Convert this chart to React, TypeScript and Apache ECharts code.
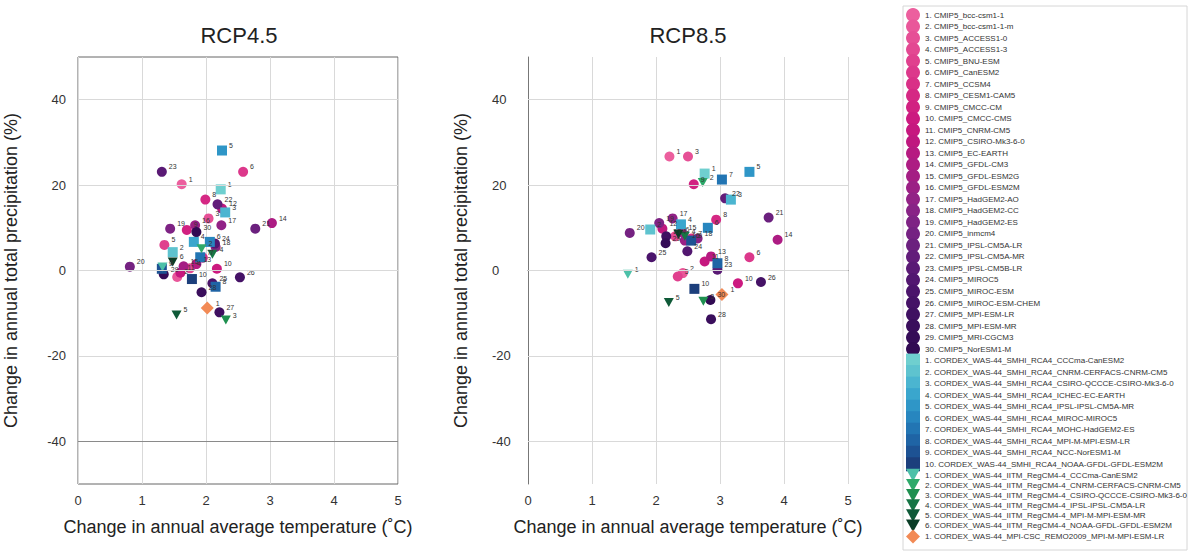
import React, { useEffect, useRef } from "react";
import * as echarts from "echarts";

// ---------- names ----------
const cmipModels = [
  "bcc-csm1-1", "bcc-csm1-1-m", "ACCESS1-0", "ACCESS1-3", "BNU-ESM", "CanESM2", "CCSM4",
  "CESM1-CAM5", "CMCC-CM", "CMCC-CMS", "CNRM-CM5", "CSIRO-Mk3-6-0", "EC-EARTH", "GFDL-CM3",
  "GFDL-ESM2G", "GFDL-ESM2M", "HadGEM2-AO", "HadGEM2-CC", "HadGEM2-ES", "inmcm4",
  "IPSL-CM5A-LR", "IPSL-CM5A-MR", "IPSL-CM5B-LR", "MIROC5", "MIROC-ESM", "MIROC-ESM-CHEM",
  "MPI-ESM-LR", "MPI-ESM-MR", "MRI-CGCM3", "NorESM1-M",
];
const smhiModels = [
  "CCCma-CanESM2", "CNRM-CERFACS-CNRM-CM5", "CSIRO-QCCCE-CSIRO-Mk3-6-0", "ICHEC-EC-EARTH",
  "IPSL-IPSL-CM5A-MR", "MIROC-MIROC5", "MOHC-HadGEM2-ES", "MPI-M-MPI-ESM-LR", "NCC-NorESM1-M",
  "NOAA-GFDL-GFDL-ESM2M",
];
const itmModels = [
  "CCCma-CanESM2", "CNRM-CERFACS-CNRM-CM5", "CSIRO-QCCCE-CSIRO-Mk3-6-0", "IPSL-IPSL-CM5A-LR",
  "MPI-M-MPI-ESM-MR", "NOAA-GFDL-GFDL-ESM2M",
];
const mpiModels = ["MPI-M-MPI-ESM-LR"];

// ---------- values: [temperature change, precipitation change] ----------
const cmip45 = [
  [1.62, 20.2], [1.55, -1.5], [2.04, 12.2], [1.75, 0.5], [1.35, 6.0], [2.58, 23.1], [1.95, 3.0],
  [1.99, 16.6], [1.7, 9.5], [2.17, 0.4], [1.6, -0.5], [2.25, 14.5], [1.85, 1.5], [3.03, 11.1],
  [1.65, 1.0], [1.83, 10.6], [2.24, 10.6], [2.15, 5.5], [1.44, 9.8], [0.81, 0.9],
  [2.77, 9.8], [2.18, 15.5], [1.31, 23.1], [2.14, 6.3], [2.1, -3.0], [2.53, -1.6],
  [2.21, -9.8], [1.93, -5.1], [1.34, -0.9], [1.85, 9.0],
];
const cmip85 = [
  [2.21, 26.7], [2.42, -0.6], [2.5, 26.7], [2.3, 8.0], [2.34, -1.4], [3.46, 3.1], [2.55, 7.5],
  [2.94, 11.9], [2.59, 20.2], [3.28, -3.0], [2.76, 2.1], [2.1, 9.8], [2.86, 3.3], [3.9, 7.2],
  [2.4, 9.0], [2.45, 7.0], [2.26, 12.2], [2.65, 7.5], [2.05, 11.1], [1.59, 8.8],
  [3.76, 12.4], [3.08, 16.9], [2.96, 0.2], [2.49, 4.5], [1.93, 3.1], [3.64, -2.7],
  [2.16, 8.0], [2.86, -11.4], [2.15, 6.4], [2.85, -6.9],
];
const smhi45 = [
  [2.23, 19.0], [1.48, 4.3], [2.3, 13.6], [1.81, 6.7], [2.25, 28.1], [2.06, 6.7], [1.91, 3.1],
  [2.15, -3.8], [1.31, 0.4], [1.78, -2.0],
];
const smhi85 = [
  [2.76, 22.7], [1.91, 9.6], [3.17, 16.6], [2.39, 10.8], [3.46, 23.1], [2.81, 10.0], [3.03, 21.3],
  [2.96, 1.7], [2.55, 7.0], [2.6, -4.3],
];
const itm45 = [[1.32, 0.8], [1.93, 5.1], [2.31, -11.6], [2.1, 3.8], [1.54, -10.4], [1.48, 2.0]];
const itm85 = [[1.56, -0.9], [2.73, 20.6], [2.74, -7.2], [2.45, 8.0], [2.2, -7.5], [2.35, 8.5]];
const mpi45 = [[2.02, -8.8]];
const mpi85 = [[3.03, -5.6]];

const yGridValues = [-40, -20, 0, 20, 40];

// ---------- colours ----------
const cmipColors = [
  "#ec5f9e", "#e9579a", "#e65096", "#e34892", "#e0408e", "#dc388b", "#d93087", "#d52884",
  "#d12181", "#cc1a80", "#c6187f", "#bf187f", "#b61a81", "#ad1c83", "#a41e84", "#9b2085",
  "#922286", "#882386", "#7e2384", "#752282", "#6b207e", "#621d7a", "#5a1a75", "#521770",
  "#4b146b", "#451266", "#3f1061", "#3a0e5c", "#350c57", "#310a52",
];
const smhiColors = [
  "#6fcfcf", "#5ec3cf", "#4bb5d0", "#3aa6cd", "#2f96c7", "#2786bf", "#2275b3", "#1f64a5",
  "#1d5293", "#1c3f7c",
];
const itmColors = ["#4cc0a8", "#2daa6a", "#1f9050", "#167545", "#0f5a38", "#0a3d26"];
const mpiColors = ["#f28a55"];

const TRI = "path://M0,0L10,0L5,9Z";
const FONT = "'Liberation Sans', Arial, sans-serif";

type Group = {
  prefix: string;
  models: string[];
  colors: string[];
  symbol: string;
  size: number;
  d45: number[][];
  d85: number[][];
};

const groups: Group[] = [
  { prefix: "CMIP5_", models: cmipModels, colors: cmipColors, symbol: "circle", size: 10, d45: cmip45, d85: cmip85 },
  { prefix: "CORDEX_WAS-44_SMHI_RCA4_", models: smhiModels, colors: smhiColors, symbol: "rect", size: 10, d45: smhi45, d85: smhi85 },
  { prefix: "CORDEX_WAS-44_IITM_RegCM4-4_", models: itmModels, colors: itmColors, symbol: TRI, size: 10, d45: itm45, d85: itm85 },
  { prefix: "CORDEX_WAS-44_MPI-CSC_REMO2009_", models: mpiModels, colors: mpiColors, symbol: "diamond", size: 13, d45: mpi45, d85: mpi85 },
];

function buildOption() {
  const series: any[] = [];
  const legendNames: string[] = [];
  groups.forEach((g) => {
    g.models.forEach((m, i) => {
      const name = `${i + 1}. ${g.prefix}${m}`;
      legendNames.push(name);
      [g.d45, g.d85].forEach((d, gi) => {
        series.push({
          type: "scatter",
          name,
          xAxisIndex: gi,
          yAxisIndex: gi,
          symbol: g.symbol,
          symbolSize: g.symbol === TRI ? [10, 9] : g.size,
          itemStyle: { color: g.colors[i], opacity: 1 },
          data: [d[i]],
          z: 3,
          emphasis: { disabled: true },
          label: {
            show: true,
            formatter: String(i + 1),
            position: "right",
            distance: 2,
            offset: [0, -5],
            fontSize: 7,
            color: "#333",
            fontFamily: FONT,
          },
        });
      });
    });
  });

  // grid lines for precipitation values
  [0, 1].forEach((gi) => {
    series.push({
      type: "scatter",
      name: "grid" + gi,
      xAxisIndex: gi,
      yAxisIndex: gi,
      data: [],
      z: 1,
      silent: true,
      markLine: {
        silent: true,
        symbol: "none",
        animation: false,
        label: { show: false },
        lineStyle: { color: "#d9d9d9", width: 1, type: "solid" },
        data: yGridValues.map((v) => ({
          yAxis: v,
          lineStyle: gi === 0 && v === -40 ? { color: "#8a8a8a", width: 1, type: "solid" } : undefined,
        })),
      },
    });
  });

  const xAxisBase = (gi: number) => ({
    type: "value",
    gridIndex: gi,
    min: 0,
    max: 5,
    interval: 1,
    name: "Change in annual average temperature (˚C)",
    nameLocation: "middle",
    nameGap: 34,
    nameTextStyle: { fontSize: 18, color: "#222", fontFamily: FONT },
    axisLine: { show: gi === 1, lineStyle: { color: "#555", width: 1 } },
    axisTick: { show: false },
    axisLabel: { fontSize: 13, color: "#333", margin: 10, fontFamily: FONT },
    splitLine: { show: true, lineStyle: { color: "#d9d9d9", width: 1 } },
  });
  const yAxisBase = (gi: number) => ({
    type: "value",
    gridIndex: gi,
    min: -50,
    max: 50,
    interval: 10,
    name: "Change in annual total precipitation (%)",
    nameLocation: "middle",
    nameGap: 58,
    nameTextStyle: { fontSize: 18, color: "#222", fontFamily: FONT },
    axisLine: { show: gi === 1, lineStyle: { color: "#777", width: 1 } },
    axisTick: { show: false },
    axisLabel: {
      fontSize: 13,
      color: "#333",
      margin: gi === 1 ? 36 : 12,
      align: gi === 1 ? "left" : "right",
      fontFamily: FONT,
      formatter: (v: number) => (v % 20 === 0 && Math.abs(v) < 50 ? String(v) : ""),
    },
    splitLine: { show: false },
  });

  return {
    animation: false,
    backgroundColor: "#fff",
    textStyle: { fontFamily: FONT },
    grid: [
      { left: 78, top: 57, width: 320, height: 427, show: true, borderColor: "#666", borderWidth: 1, backgroundColor: "transparent" },
      { left: 528, top: 57, width: 320, height: 427, show: false },
    ],
    xAxis: [xAxisBase(0), xAxisBase(1)],
    yAxis: [yAxisBase(0), yAxisBase(1)],
    legend: {
      orient: "vertical",
      left: 906,
      top: 8,
      height: 560,
      padding: 0,
      itemWidth: 14,
      itemHeight: 14,
      itemGap: -2.48,
      selectedMode: false,
      data: legendNames,
      textStyle: { fontSize: 8, color: "#333", fontFamily: FONT },
    },
    graphic: [
      { type: "rect", shape: { x: 903, y: 6, width: 284, height: 544 }, style: { fill: "none", stroke: "#d6d6d6", lineWidth: 1 }, z: 0, silent: true },
      { type: "text", x: 239, y: 35, style: { text: "RCP4.5", fontSize: 22, fill: "#222", textAlign: "center", textVerticalAlign: "middle", fontFamily: FONT } },
      { type: "text", x: 688, y: 35, style: { text: "RCP8.5", fontSize: 22, fill: "#222", textAlign: "center", textVerticalAlign: "middle", fontFamily: FONT } },
    ],
    series,
  };
}

export default function App() {
  const ref = useRef<HTMLDivElement>(null);
  useEffect(() => {
    if (!ref.current) return;
    const chart = echarts.init(ref.current, undefined, { renderer: "svg" });
    chart.setOption(buildOption() as any);
    return () => chart.dispose();
  }, []);
  return (
    <div
      ref={ref}
      style={{ position: "fixed", left: 0, top: 0, width: 1190, height: 552, background: "#fff" }}
    />
  );
}
